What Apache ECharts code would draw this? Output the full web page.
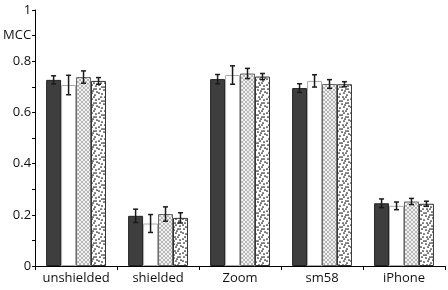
<!DOCTYPE html>
<html style="height: 100%">
<head>
<meta charset="utf-8">
<script src="https://cdn.jsdelivr.net/npm/echarts@6/dist/echarts.min.js"></script>
</head>
<body style="height: 100%; margin: 0; background: #fff">
<div id="container" style="width: 448px; height: 290px;"></div>
<script type="text/javascript">
// data
var categories = ['unshielded', 'shielded', 'Zoom', 'sm58', 'iPhone'];
var darkVals  = [0.727, 0.196, 0.730, 0.695, 0.245];
var whiteVals = [0.707, 0.166, 0.746, 0.723, 0.235];
var hatchVals = [0.738, 0.203, 0.752, 0.711, 0.252];
var dotVals   = [0.723, 0.188, 0.740, 0.710, 0.243];
var darkErr  = [0.016, 0.026, 0.018, 0.017, 0.017];
var whiteErr = [0.038, 0.035, 0.036, 0.024, 0.015];
var hatchErr = [0.024, 0.028, 0.020, 0.017, 0.012];
var dotErr   = [0.013, 0.020, 0.012, 0.010, 0.010];
var yLabels = {0: '0', 2: '0.2', 4: '0.4', 6: '0.6', 8: '0.8', 9: 'MCC', 10: '1'};

function hatchPattern() {
    var c = document.createElement('canvas');
    c.width = 4; c.height = 4;
    var ctx = c.getContext('2d');
    ctx.fillStyle = '#f2f2f2';
    ctx.fillRect(0, 0, 4, 4);
    ctx.strokeStyle = '#a8a8a8';
    ctx.lineWidth = 0.8;
    ctx.beginPath();
    ctx.moveTo(0, 0); ctx.lineTo(4, 4);
    ctx.moveTo(4, 0); ctx.lineTo(0, 4);
    ctx.stroke();
    return c;
}

function dotPattern() {
    // fixed speckle layout, drawn once and tiled
    var c = document.createElement('canvas');
    c.width = 14; c.height = 14;
    var ctx = c.getContext('2d');
    ctx.fillStyle = '#ffffff';
    ctx.fillRect(0, 0, 14, 14);
    ctx.fillStyle = '#111';
    var pts = [[1,1],[4,3],[8,1],[12,2],[2,5],[6,6],[10,5],[13,8],[1,9],[4,10],
               [8,9],[11,11],[3,13],[7,13],[10,13],[6,3],[12,5],[9,7]];
    pts.forEach(function (p) {
        ctx.beginPath();
        ctx.arc(p[0], p[1], 0.85, 0, Math.PI * 2);
        ctx.fill();
    });
    return c;
}

var errData = [];
[[darkVals, darkErr], [whiteVals, whiteErr], [hatchVals, hatchErr], [dotVals, dotErr]].forEach(function (s, k) {
    s[0].forEach(function (v, i) {
        errData.push([i, v, s[1][i], k]);
    });
});

var gapPct = 0.27;
var font = 'Open Sans';

var dom = document.getElementById('container');
var myChart = echarts.init(dom);
var option = {
    animation: false,
    grid: {left: 33, right: 3, top: 10, bottom: 24},
    xAxis: {
        type: 'category',
        data: categories,
        axisLine: {lineStyle: {color: '#000', width: 1}},
        axisTick: {show: true, length: 4, lineStyle: {color: '#000'}},
        axisLabel: {interval: 0, color: '#111', fontSize: 13, fontFamily: font, margin: 6}
    },
    yAxis: {
        type: 'value',
        min: 0, max: 1, interval: 0.1,
        splitLine: {show: false},
        axisLine: {show: true, lineStyle: {color: '#000', width: 1}},
        axisTick: {show: true, length: 3, lineStyle: {color: '#000'}},
        axisLabel: {
            color: '#111', fontSize: 13, fontFamily: font, margin: 4,
            formatter: function (v) {
                var k = Math.round(v * 10);
                return yLabels[k] !== undefined ? yLabels[k] : '';
            }
        }
    },
    series: [
        {
            type: 'bar', data: darkVals, barGap: 0, barCategoryGap: (gapPct * 100) + '%',
            itemStyle: {color: '#3e3e3e', borderColor: '#222', borderWidth: 1}
        },
        {
            type: 'bar', data: whiteVals,
            itemStyle: {color: '#fff', borderColor: '#aaa', borderWidth: 1}
        },
        {
            type: 'bar', data: hatchVals,
            itemStyle: {color: {image: hatchPattern(), repeat: 'repeat'}, borderColor: '#666', borderWidth: 1}
        },
        {
            type: 'bar', data: dotVals,
            itemStyle: {color: {image: dotPattern(), repeat: 'repeat'}, borderColor: '#333', borderWidth: 1}
        },
        {
            type: 'custom',
            data: errData,
            z: 10,
            renderItem: function (params, api) {
                var ci = api.value(0), v = api.value(1), e = api.value(2), k = api.value(3);
                var catW = api.size([1, 0])[0];
                var bw = catW * (1 - gapPct) / 4;
                var cx = api.coord([ci, v])[0] + (k - 1.5) * bw;
                var yt = api.coord([ci, v + e])[1];
                var yb = api.coord([ci, v - e])[1];
                var h = 2.5;
                var st = {stroke: '#1a1a1a', lineWidth: 1.5};
                return {
                    type: 'group',
                    children: [
                        {type: 'line', shape: {x1: cx, y1: yt, x2: cx, y2: yb}, style: st},
                        {type: 'line', shape: {x1: cx - h, y1: yt, x2: cx + h, y2: yt}, style: st},
                        {type: 'line', shape: {x1: cx - h, y1: yb, x2: cx + h, y2: yb}, style: st}
                    ]
                };
            }
        }
    ]
};
myChart.setOption(option);
</script>
</body>
</html>
